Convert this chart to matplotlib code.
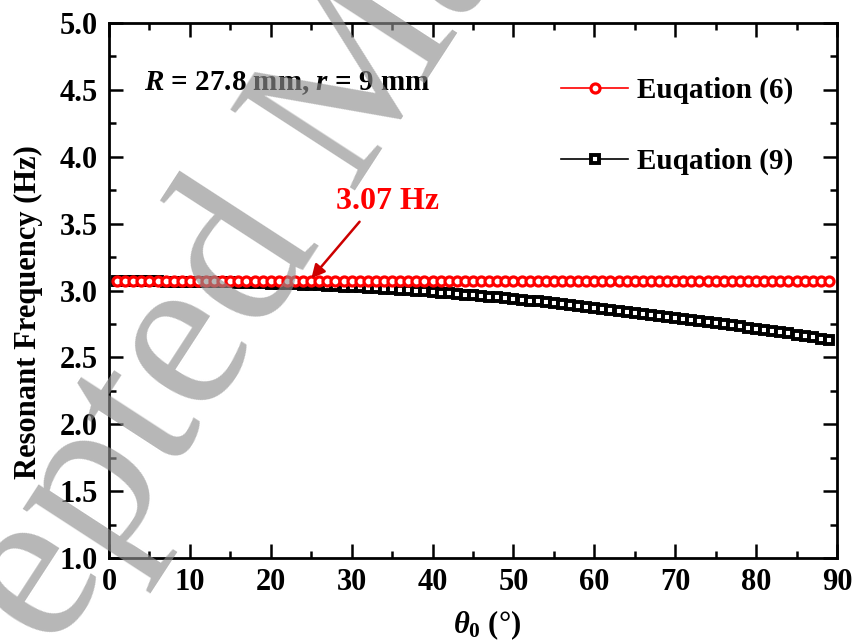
import matplotlib
matplotlib.use("Agg")
import matplotlib.pyplot as plt
from matplotlib.ticker import MultipleLocator, FormatStrFormatter

plt.rcParams['font.family'] = ['Liberation Serif', 'DejaVu Serif']
plt.rcParams['font.weight'] = 'bold'
plt.rcParams['axes.labelweight'] = 'bold'
plt.rcParams['mathtext.fontset'] = 'custom'
plt.rcParams['mathtext.rm'] = 'Liberation Serif:bold'
plt.rcParams['mathtext.it'] = 'Liberation Serif:italic:bold'
plt.rcParams['mathtext.bf'] = 'Liberation Serif:bold'

# initial swing angle, degrees
theta0 = list(range(1, 90))

# Equation (6): small-angle resonant frequency, Hz
f_eq6 = [3.07] * len(theta0)

# Equation (9): frequency with amplitude correction, Hz
f_eq9 = [
    3.070, 3.070, 3.069, 3.069, 3.068, 3.068, 3.067, 3.067, 3.066, 3.065,
    3.064, 3.063, 3.062, 3.061, 3.060, 3.058, 3.057, 3.055, 3.053, 3.051,
    3.049, 3.047, 3.045, 3.043, 3.040, 3.038, 3.035, 3.032, 3.029, 3.026,
    3.023, 3.020, 3.016, 3.013, 3.009, 3.005, 3.001, 2.997, 2.993, 2.988,
    2.984, 2.979, 2.974, 2.969, 2.964, 2.959, 2.953, 2.948, 2.942, 2.936,
    2.930, 2.924, 2.918, 2.911, 2.905, 2.898, 2.891, 2.884, 2.877, 2.870,
    2.863, 2.856, 2.849, 2.842, 2.834, 2.827, 2.819, 2.811, 2.803, 2.795,
    2.787, 2.779, 2.771, 2.763, 2.755, 2.747, 2.739, 2.731, 2.723, 2.715,
    2.706, 2.697, 2.688, 2.679, 2.670, 2.661, 2.651, 2.641, 2.632,
]

fig = plt.figure(figsize=(8.56, 6.43), dpi=100)
ax = fig.add_axes([0.1273, 0.1322, 0.8505, 0.832])

ax.plot(theta0, f_eq6, color='red', lw=1.2, marker='o', ms=6.5, mew=2.3,
        mfc='white', mec='red', label='Euqation (6)', zorder=3)
ax.plot(theta0, f_eq9, color='black', lw=1.2, marker='s', ms=6.2, mew=2.8,
        mfc='white', mec='black', label='Euqation (9)', zorder=2)

ax.set_xlim(0, 90)
ax.set_ylim(1.0, 5.0)
ax.xaxis.set_major_locator(MultipleLocator(10))
ax.xaxis.set_minor_locator(MultipleLocator(5))
ax.yaxis.set_major_locator(MultipleLocator(0.5))
ax.yaxis.set_minor_locator(MultipleLocator(0.25))
ax.yaxis.set_major_formatter(FormatStrFormatter('%.1f'))

ax.tick_params(which='both', direction='in', top=True, right=True,
               labelsize=22, width=1.8)
ax.tick_params(which='major', length=10)
ax.tick_params(which='minor', length=5)
ax.tick_params(axis='y', pad=8)
ax.tick_params(axis='x', pad=7)
for s in ax.spines.values():
    s.set_linewidth(2)

ax.set_ylabel('Resonant Frequency (Hz)', fontsize=22)
ax.yaxis.set_label_coords(-0.091, 0.46)
ax.set_xlabel(r'$\theta_0$ (°)', fontsize=22)
ax.xaxis.set_label_coords(0.52, -0.095)

ax.text(4.3, 4.55, r'$R$ = 27.8 mm, $r$ = 9 mm', fontsize=21,
        ha='left', va='center')

ax.legend(loc='upper left', bbox_to_anchor=(0.585, 0.948), frameon=False,
          fontsize=21, handlelength=2.3, handletextpad=0.3, labelspacing=1.5)

ax.annotate('', xy=(24.8, 3.075), xytext=(31.2, 3.53),
            arrowprops=dict(arrowstyle='-|>', color='#cc0000', lw=1.8,
                            mutation_scale=20))
ax.text(34.4, 3.665, '3.07 Hz', fontsize=23, color='red',
        ha='center', va='center')

# watermark across the sheet
fig.text(0.395, 0.82, 'Accepted Manuscript', fontsize=163, color='#909090',
         alpha=0.65, fontweight='normal', rotation=57, ha='center',
         va='center', rotation_mode='anchor', zorder=10)

fig.savefig('out.png', dpi=100)
